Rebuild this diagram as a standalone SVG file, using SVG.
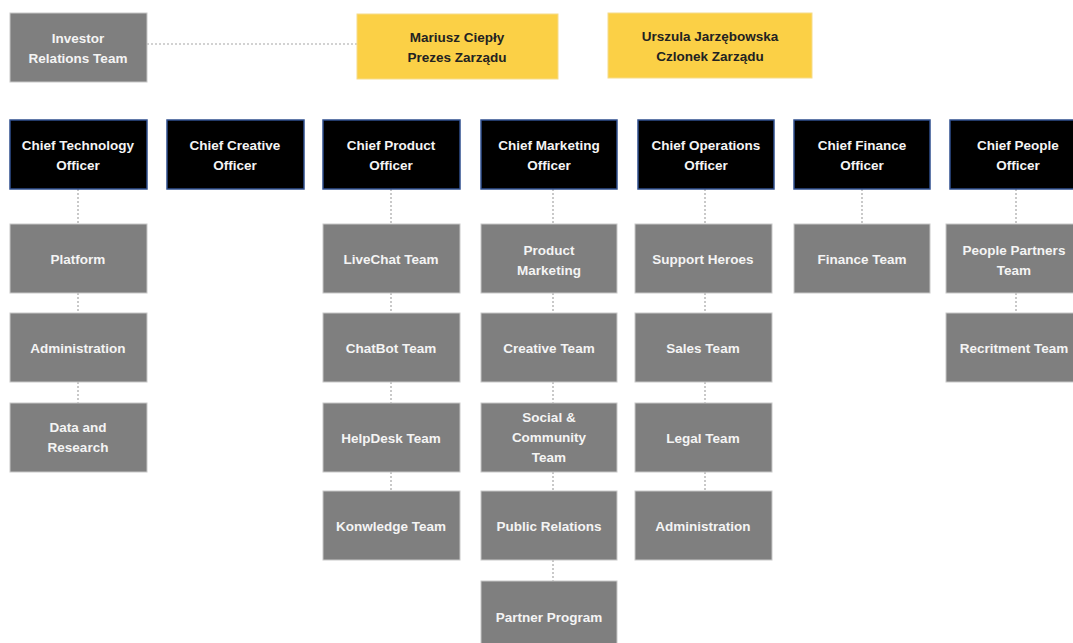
<svg xmlns="http://www.w3.org/2000/svg" width="1073" height="643" viewBox="0 0 1073 643">
<style>
.g{fill:#7f7f7f;stroke:#c8c8c8;stroke-width:1}
.k{fill:#000;stroke:#2f4f8f;stroke-width:1.5}
.y{fill:#fbd046;stroke:#f6dc8a;stroke-width:1}
text{font-family:"Liberation Sans",Arial,sans-serif;font-size:13.5px;font-weight:bold;text-anchor:middle;dominant-baseline:central}
.w{fill:#f4f4f4}
.d{fill:#222}
.c line{stroke:#a6a6a6;stroke-width:1.2;stroke-dasharray:2 2}
</style>
<rect width="1073" height="643" fill="#fff"/>
<g class="c" id="connectors">
<line x1="147" y1="44" x2="357" y2="44"/>
<line x1="78" y1="189" x2="78" y2="224"/>
<line x1="78" y1="293" x2="78" y2="313"/>
<line x1="78" y1="382" x2="78" y2="403"/>
<line x1="391" y1="189" x2="391" y2="224"/>
<line x1="391" y1="293" x2="391" y2="313"/>
<line x1="391" y1="382" x2="391" y2="403"/>
<line x1="391" y1="472" x2="391" y2="491"/>
<line x1="553" y1="189" x2="553" y2="224"/>
<line x1="553" y1="293" x2="553" y2="313"/>
<line x1="553" y1="382" x2="553" y2="403"/>
<line x1="553" y1="472" x2="553" y2="491"/>
<line x1="553" y1="560" x2="553" y2="581"/>
<line x1="705" y1="189" x2="705" y2="224"/>
<line x1="705" y1="293" x2="705" y2="313"/>
<line x1="705" y1="382" x2="705" y2="403"/>
<line x1="705" y1="472" x2="705" y2="491"/>
<line x1="862" y1="189" x2="862" y2="224"/>
<line x1="1016" y1="189" x2="1016" y2="224"/>
<line x1="1016" y1="293" x2="1016" y2="313"/>
</g>
<g id="investor"><rect class="g" x="10" y="13" width="137" height="69"/><text class="w" x="78" y="38">Investor</text><text class="w" x="78" y="58">Relations Team</text></g>
<g id="mariusz"><rect class="y" x="357" y="14" width="201" height="65"/><text class="d" x="457" y="37">Mariusz Ciepły</text><text class="d" x="457" y="57">Prezes Zarządu</text></g>
<g id="urszula"><rect class="y" x="608" y="13" width="204" height="65"/><text class="d" x="710" y="36">Urszula Jarzębowska</text><text class="d" x="710" y="56">Czlonek Zarządu</text></g>
<g id="cto"><rect class="k" x="10" y="120" width="137" height="69"/><text class="w" x="78" y="145">Chief Technology</text><text class="w" x="78" y="165">Officer</text></g>
<g id="cco"><rect class="k" x="167" y="120" width="137" height="69"/><text class="w" x="235" y="145">Chief Creative</text><text class="w" x="235" y="165">Officer</text></g>
<g id="cpo"><rect class="k" x="323" y="120" width="137" height="69"/><text class="w" x="391" y="145">Chief Product</text><text class="w" x="391" y="165">Officer</text></g>
<g id="cmo"><rect class="k" x="481" y="120" width="136" height="69"/><text class="w" x="549" y="145">Chief Marketing</text><text class="w" x="549" y="165">Officer</text></g>
<g id="coo"><rect class="k" x="638" y="120" width="136" height="69"/><text class="w" x="706" y="145">Chief Operations</text><text class="w" x="706" y="165">Officer</text></g>
<g id="cfo"><rect class="k" x="794" y="120" width="136" height="69"/><text class="w" x="862" y="145">Chief Finance</text><text class="w" x="862" y="165">Officer</text></g>
<g id="cpeo"><rect class="k" x="950" y="120" width="137" height="69"/><text class="w" x="1018" y="145">Chief People</text><text class="w" x="1018" y="165">Officer</text></g>
<g id="platform"><rect class="g" x="10" y="224" width="137" height="69"/><text class="w" x="78" y="259">Platform</text></g>
<g id="admin1"><rect class="g" x="10" y="313" width="137" height="69"/><text class="w" x="78" y="348">Administration</text></g>
<g id="data"><rect class="g" x="10" y="403" width="137" height="69"/><text class="w" x="78" y="427">Data and</text><text class="w" x="78" y="447">Research</text></g>
<g id="livechat"><rect class="g" x="323" y="224" width="137" height="69"/><text class="w" x="391" y="259">LiveChat Team</text></g>
<g id="chatbot"><rect class="g" x="323" y="313" width="137" height="69"/><text class="w" x="391" y="348">ChatBot Team</text></g>
<g id="helpdesk"><rect class="g" x="323" y="403" width="137" height="69"/><text class="w" x="391" y="438">HelpDesk Team</text></g>
<g id="knowledge"><rect class="g" x="323" y="491" width="137" height="69"/><text class="w" x="391" y="526">Konwledge Team</text></g>
<g id="prodmkt"><rect class="g" x="481" y="224" width="136" height="69"/><text class="w" x="549" y="250">Product</text><text class="w" x="549" y="270">Marketing</text></g>
<g id="creative"><rect class="g" x="481" y="313" width="136" height="69"/><text class="w" x="549" y="348">Creative Team</text></g>
<g id="social"><rect class="g" x="481" y="403" width="136" height="69"/><text class="w" x="549" y="417">Social &amp;</text><text class="w" x="549" y="437">Community</text><text class="w" x="549" y="457">Team</text></g>
<g id="pr"><rect class="g" x="481" y="491" width="136" height="69"/><text class="w" x="549" y="526">Public Relations</text></g>
<g id="partner"><rect class="g" x="481" y="581" width="136" height="69"/><text class="w" x="549" y="617">Partner Program</text></g>
<g id="support"><rect class="g" x="635" y="224" width="137" height="69"/><text class="w" x="703" y="259">Support Heroes</text></g>
<g id="sales"><rect class="g" x="635" y="313" width="137" height="69"/><text class="w" x="703" y="348">Sales Team</text></g>
<g id="legal"><rect class="g" x="635" y="403" width="137" height="69"/><text class="w" x="703" y="438">Legal Team</text></g>
<g id="admin2"><rect class="g" x="635" y="491" width="137" height="69"/><text class="w" x="703" y="526">Administration</text></g>
<g id="finance"><rect class="g" x="794" y="224" width="136" height="69"/><text class="w" x="862" y="259">Finance Team</text></g>
<g id="peoplepartners"><rect class="g" x="946" y="224" width="137" height="69"/><text class="w" x="1014" y="250">People Partners</text><text class="w" x="1014" y="270">Team</text></g>
<g id="recruitment"><rect class="g" x="946" y="313" width="137" height="69"/><text class="w" x="1014" y="348">Recritment Team</text></g>
</svg>
